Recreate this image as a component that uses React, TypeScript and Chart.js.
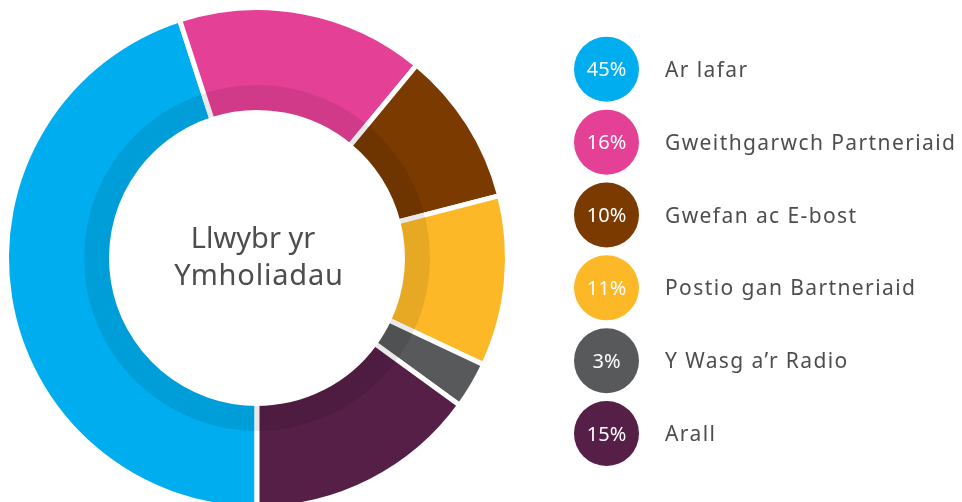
import React, { useEffect, useRef } from "react";
import { Chart, registerables } from "chart.js";

Chart.register(...registerables);

const categories = [
  "Ar lafar",
  "Gweithgarwch Partneriaid",
  "Gwefan ac E-bost",
  "Postio gan Bartneriaid",
  "Y Wasg a\u2019r Radio",
  "Arall",
];
const values = [45, 16, 10, 11, 3, 15];
const colors = ["#00ADEE", "#E44096", "#7A3A00", "#FDB827", "#58595B", "#561F47"];
const centerLines = ["Llwybr yr", "Ymholiadau"];

const W = 962;
const H = 530;
const CX = 257;
const CY = 258;
const OUTER = 250.5;
const INNER = 145.5;
const BORDER = 5;
const HALF = OUTER + BORDER / 2;

const TEXT_COLOR = "#4D4D4D";
const FONT = "'Noto Sans', sans-serif";

const overlayPlugin = {
  id: "overlayRing",
  afterDatasetsDraw(chart: any) {
    const meta = chart.getDatasetMeta(0);
    const arc = meta.data[0];
    if (!arc) return;
    const ctx = chart.ctx;
    const r0 = arc.innerRadius + BORDER / 2;
    const r1 = r0 + 25;
    ctx.save();
    ctx.beginPath();
    ctx.arc(arc.x, arc.y, r1, 0, Math.PI * 2);
    ctx.arc(arc.x, arc.y, r0, Math.PI * 2, 0, true);
    ctx.closePath();
    ctx.fillStyle = "rgba(0,0,0,0.085)";
    ctx.fill();
    ctx.restore();
  },
  afterDraw(chart: any) {
    const ctx = chart.ctx;
    const meta = chart.getDatasetMeta(0);
    const arc = meta.data[0];
    ctx.save();
    // center text
    ctx.fillStyle = TEXT_COLOR;
    ctx.font = `29px ${FONT}`;
    ctx.textAlign = "center";
    ctx.textBaseline = "alphabetic";
    (ctx as any).letterSpacing = "0px";
    ctx.fillText(centerLines[0], arc.x - 4, 248);
    (ctx as any).letterSpacing = "0.8px";
    ctx.fillText(centerLines[1], arc.x + 2, 285);
    (ctx as any).letterSpacing = "0px";
    // legend
    const lx = 606.5;
    const ly0 = 69.3;
    const step = 72.85;
    const total = values.reduce((a, b) => a + b, 0);
    categories.forEach((label, i) => {
      const y = ly0 + i * step;
      ctx.beginPath();
      ctx.arc(lx, y, 32.5, 0, Math.PI * 2);
      ctx.fillStyle = colors[i];
      ctx.fill();
      ctx.fillStyle = "#FFFFFF";
      ctx.font = `20px ${FONT}`;
      ctx.textAlign = "center";
      ctx.fillText(`${Math.round((values[i] / total) * 100)}%`, lx, y + 7);
      ctx.fillStyle = TEXT_COLOR;
      ctx.font = `21px ${FONT}`;
      ctx.textAlign = "left";
      (ctx as any).letterSpacing = "1.4px";
      ctx.fillText(label, 665, y + 7.5);
      (ctx as any).letterSpacing = "0px";
    });
    ctx.restore();
  },
};

export default function App() {
  const ref = useRef<HTMLCanvasElement | null>(null);
  useEffect(() => {
    document.body.style.margin = "0";
    const canvas = ref.current;
    if (!canvas) return;
    const chart = new Chart(canvas, {
      type: "doughnut",
      data: {
        labels: categories,
        datasets: [
          {
            data: values,
            backgroundColor: colors,
            borderColor: "#FFFFFF",
            borderWidth: BORDER,
            hoverOffset: 0,
          },
        ],
      },
      options: {
        animation: false,
        responsive: false,
        maintainAspectRatio: false,
        rotation: 180,
        cutout: `${(INNER / OUTER) * 100}%`,
        radius: "100%",
        layout: {
          padding: {
            left: CX - HALF,
            top: CY - HALF,
            right: W - (CX + HALF),
            bottom: H - (CY + HALF),
          },
        },
        events: [],
        plugins: {
          legend: { display: false },
          tooltip: { enabled: false },
        },
      },
      plugins: [overlayPlugin],
    });
    return () => chart.destroy();
  }, []);
  return (
    <div style={{ position: "absolute", left: 0, top: 0, width: W, height: 502, overflow: "hidden", background: "#fff" }}>
      <canvas ref={ref} width={W} height={H} style={{ width: W, height: H, display: "block" }} />
    </div>
  );
}
